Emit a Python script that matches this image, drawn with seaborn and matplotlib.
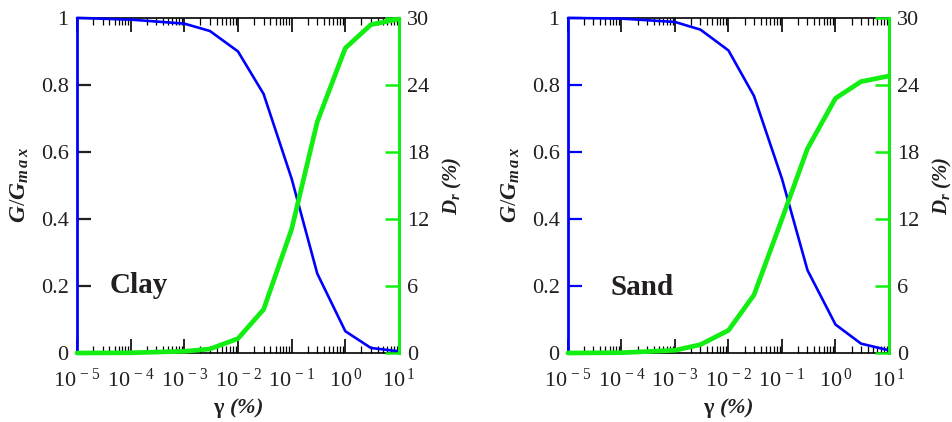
import numpy as np
import pandas as pd
import matplotlib
matplotlib.use("Agg")
import matplotlib.pyplot as plt
from matplotlib.ticker import FixedLocator, LogLocator, NullFormatter
import seaborn as sns

# Shear strain amplitude (%)
strain = [1e-5, 1e-4, 1e-3, 3e-3, 1e-2, 3e-2, 1e-1, 3e-1, 1.0, 3.0, 10.0]

# Normalised shear modulus G/Gmax
clay_modulus = [1.0, 0.995, 0.983, 0.961, 0.90, 0.773, 0.52, 0.237, 0.065, 0.015, 0.005]
sand_modulus = [1.0, 0.998, 0.988, 0.965, 0.903, 0.767, 0.52, 0.247, 0.085, 0.028, 0.008]

# Damping ratio Dr (%)
clay_damping = [0.0, 0.02, 0.15, 0.36, 1.29, 3.9, 11.1, 20.7, 27.3, 29.4, 29.9]
sand_damping = [0.0, 0.03, 0.24, 0.75, 2.03, 5.2, 12.0, 18.3, 22.8, 24.3, 24.8]

soil_names = ["Clay", "Sand"]
x_tick_values = [1e-5, 1e-4, 1e-3, 1e-2, 1e-1, 1e0, 1e1]
x_tick_labels = ["10$^{\\,-5}$", "10$^{\\,-4}$", "10$^{\\,-3}$", "10$^{\\,-2}$",
                 "10$^{\\,-1}$", "10$^{\\,0}$", "10$^{\\,1}$"]
g_ticks = [0, 0.2, 0.4, 0.6, 0.8, 1.0]
g_tick_labels = ["0", "0.2", "0.4", "0.6", "0.8", "1"]
d_ticks = [0, 6, 12, 18, 24, 30]
d_tick_labels = ["0", "6", "12", "18", "24", "30"]

sns.set_style("ticks")
plt.rcParams["font.family"] = ["Liberation Serif", "DejaVu Serif"]
plt.rcParams["mathtext.fontset"] = "custom"
plt.rcParams["mathtext.rm"] = "Liberation Serif"
plt.rcParams["mathtext.it"] = "Liberation Serif:italic:bold"
plt.rcParams["mathtext.bf"] = "Liberation Serif:bold"

BLUE = "#0000ff"
GREEN = "#12ee12"
INK = "#231f20"

frames = {
    "Clay": pd.DataFrame({"strain": strain, "G": clay_modulus, "D": clay_damping}),
    "Sand": pd.DataFrame({"strain": strain, "G": sand_modulus, "D": sand_damping}),
}

fig = plt.figure(figsize=(9.52, 4.22), dpi=100)
axes_boxes = [[0.0809, 0.1635, 0.3382, 0.794], [0.5966, 0.1635, 0.3372, 0.794]]
name_pos = {"Clay": (0.102, 0.18), "Sand": (0.134, 0.173)}
left_tick_color = {"Clay": INK, "Sand": BLUE}

for name, box in zip(soil_names, axes_boxes):
    df = frames[name]
    ax = fig.add_axes(box)
    ax2 = ax.twinx()

    sns.lineplot(data=df, x="strain", y="G", ax=ax, color=BLUE, lw=1.9,
                 clip_on=False, zorder=5)
    sns.lineplot(data=df, x="strain", y="D", ax=ax2, color=GREEN, lw=3.4,
                 clip_on=False, zorder=5)

    for a in (ax, ax2):
        a.set_xscale("log")
        a.set_xlim(1e-5, 10)

    ax.set_ylim(0, 1)
    ax2.set_ylim(0, 30)

    ax.xaxis.set_major_locator(FixedLocator(x_tick_values))
    ax.set_xticklabels(x_tick_labels)
    ax.xaxis.set_minor_locator(LogLocator(base=10, subs=np.arange(2, 10), numticks=20))
    ax.xaxis.set_minor_formatter(NullFormatter())
    ax.set_yticks(g_ticks)
    ax.set_yticklabels(g_tick_labels)
    ax2.set_yticks(d_ticks)
    ax2.set_yticklabels(d_tick_labels)

    ax.tick_params(axis="x", which="both", direction="in", top=True, bottom=True,
                   color="black", labelsize=16, labelcolor=INK, pad=11)
    ax.tick_params(axis="x", which="major", length=10, width=1.2)
    ax.tick_params(axis="x", which="minor", length=5, width=0.9)
    ax.tick_params(axis="y", which="both", direction="in", left=True, right=False,
                   length=10, width=1.6, color=left_tick_color[name],
                   labelsize=16, labelcolor=INK, pad=6)
    ax2.tick_params(axis="y", which="both", direction="in", right=True, left=False,
                    length=10, width=1.8, color=GREEN, labelsize=16,
                    labelcolor=INK, pad=6)
    ax2.tick_params(axis="x", which="both", top=False, bottom=False,
                    labeltop=False, labelbottom=False)

    ax.spines["left"].set_color(BLUE)
    ax.spines["left"].set_linewidth(2.0)
    ax.spines["right"].set_visible(False)
    for s in ("top", "bottom"):
        ax.spines[s].set_color("black")
        ax.spines[s].set_linewidth(1.2)
    for s in ("left", "top", "bottom"):
        ax2.spines[s].set_visible(False)
    ax2.spines["right"].set_color(GREEN)
    ax2.spines["right"].set_linewidth(2.2)

    ax.set_xlabel("$\\mathbf{\\gamma}$ (%)", fontsize=16, fontweight="bold",
                  fontstyle="italic", color=INK, labelpad=3)
    ax.set_ylabel("$G/G_{m\\,a\\,x}$", fontsize=17, color=INK, labelpad=7)
    ax2.set_ylabel("$D_r$ (%)", fontsize=15, fontweight="bold", fontstyle="italic",
                   color=INK, rotation=90, labelpad=8)

    ax.text(name_pos[name][0], name_pos[name][1], name, transform=ax.transAxes,
            fontsize=21, fontweight="bold", color=INK, ha="left", va="baseline")

fig.savefig("out.png", dpi=100)
